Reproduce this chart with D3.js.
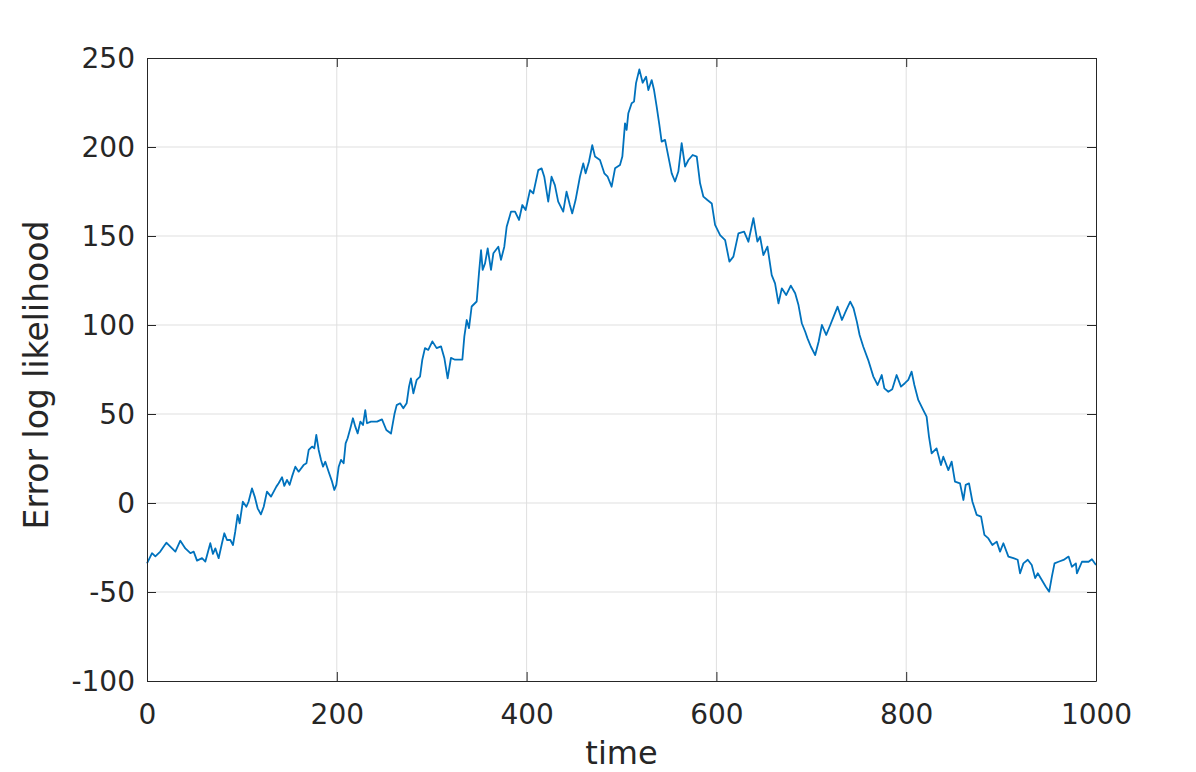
<!DOCTYPE html>
<html>
<head>
<meta charset="utf-8">
<script src="https://cdn.jsdelivr.net/npm/d3@7"></script>
<style>
  body { margin: 0; background: #fff; }
  svg { display: block; font-family: "DejaVu Sans", sans-serif; }
  .tick text { fill: #262626; }
</style>
</head>
<body>
<svg class="chart" width="1196" height="772"></svg>
<script>
// values
const times = [
  0, 5.3, 8.8, 14, 17.6, 20.4, 24.6, 29.9, 35.1, 40.4, 45.7, 49.2, 52.7, 58, 61.5, 66.7, 69.5, 72,
  75.5, 79, 81.5, 84.3, 87.8, 90.6, 93, 95.5, 97.6, 101, 104.7, 107, 110.6, 113.5, 116.6, 120, 123,
  126.4, 130.7, 136.3, 138.7, 142.3, 144.7, 147.5, 150.3, 152.8, 156.3, 159.8, 165, 168, 170.4,
  173.9, 176.3, 178.4, 180.9, 183.4, 185.5, 187.9, 191.4, 195, 197.4, 199.5, 202, 204.4, 207.2,
  209.3, 211.4, 214.3, 217, 219.5, 222, 224.8, 227.6, 230, 231.8, 236, 242.4, 247.6, 252.2,
  257.1, 260.9, 263.1, 266.7, 270.1, 273.6, 276.1, 278.1, 280.7, 284.2, 287.7, 290.1, 292.9, 296.4,
  300.7, 305.2, 309.8, 313.3, 316.8, 320.3, 324.5, 332.3, 334.4, 336.9, 339.3, 342.1, 347.4, 349.8,
  352, 353.7, 356.2, 359, 362.5, 365, 370.2, 373, 376.5, 379, 383.6, 387.8, 392, 395.5, 399, 403.6,
  407, 412.3, 415.8, 418.6, 422.8, 426.3, 429.8, 433.3, 438.6, 442.1, 445.6, 448.1, 451.6, 456.2,
  459.7, 462.2, 465.7, 469.2, 472.1, 477.3, 481.9, 485.4, 489.6, 493.2, 498.4, 500.9,
  503.7, 505.4, 507.2, 510.7, 513.2, 515.3, 518.8, 522.3, 525.9, 528.3, 531.8, 534.3, 537.1, 539.9,
  542.3, 545.9, 549.4, 552.9, 556.4, 559.9, 563.4, 567, 570.5, 575, 579.3, 582.8, 586.3, 590.5,
  595.1, 598.6, 603.9, 609.2, 613.7, 617.9, 623.2, 629.2, 633.7, 639, 643.2, 646, 649.5, 653.8,
  658.3, 661.8, 665.4, 668.9, 673.5, 678.4, 683, 686.5, 690, 693.6, 696, 699.6, 704.1, 707.7, 711.2,
  715.7, 720, 723.5, 727.7, 732.3, 736.8, 741, 744.5, 748, 750.9, 754.8,
  760, 765.4, 769.9, 774.2, 777, 781.2, 785.3, 789.9, 794.5, 798.6, 802.2, 805.7, 808.6, 812.7, 818,
  821.5, 824, 826.8, 832, 836.6, 839.1, 844.4, 847.9, 851.4, 856.7, 860.3, 862.7, 866.2, 869.8,
  874.3, 878.9, 882.4, 886.6, 890.8, 895.4, 898.9, 902.4, 907.7, 913, 917.5, 920, 923.5, 928.1,
  932.3, 935.9, 938.7, 942.9, 947.1, 950.7, 953.5, 956.3, 960.5, 965.8, 971.1, 974.6, 978.8, 979.9,
  985.2, 992.2, 995.7, 1000
];
const errorLogLik = [
  -33.9, -28.2, -30, -27.3, -24.5, -22.3, -24.5, -27.3, -21.2, -25.5, -28.2, -27.3, -32.4, -31, -32.9, -22.6, -28.6, -25.5,
  -31, -22.6, -17, -20.8, -20.8, -23.6, -16, -6.7, -11.4, 0.7, -2.1, 0.7, 8.2, 3.6, -3, -6.4, -2.1,
  6.4, 3.6, 9.2, 11.1, 14.5, 9.6, 13, 10.2, 14.8, 20.4, 17.6, 21.3, 22.3, 29.8,
  31.7, 30.7, 38.2, 29.8, 24.2, 20.4, 23.2, 17.6, 12, 7.3, 10.2, 20.4, 24.2, 22.3,
  33.5, 36.4, 42, 47.6, 42.9, 39.1, 45.7, 43.8, 52.2, 44.8, 45.7, 45.7, 47, 41,
  39, 50.3, 55, 56, 53.2, 56, 65.4, 70, 61.6, 69.2, 71, 80.5, 87, 86,
  90.8, 87, 88, 81.5, 70, 81.5, 80.5, 80.5, 93.6, 102.8, 98.2, 110.4, 113.2, 129,
  142, 131, 134.6, 143, 131, 140.3, 144, 136.6, 144, 155.2, 163.7, 163.7, 159, 167.4, 164.6, 175.8,
  173.9, 187, 188, 183.3, 169.3, 183.3, 178.6, 169.3, 163.7, 174.9, 167.4, 162.7, 170.2, 183.3,
  190.8, 185.2, 191.7, 201, 194.6, 192.7, 185.2, 183.3, 177.7, 188, 189.9, 194.6,
  213.3, 209.6, 219, 224.6, 225.5, 235.9, 243.6, 236.1, 239.5, 232, 237.6, 232, 222.6, 212.4,
  203, 204, 194.6, 185.2, 180.6, 186.2, 202.2, 189, 192.7, 195.5, 194.6, 179.6, 172.1, 170.2,
  168.3, 156.2, 150.5, 147.7, 135.6, 138.4, 151.5, 152.4, 146.8, 160, 146.8, 149.6, 139.3, 144,
  128, 123.4, 112.1, 120.6, 116.8, 122.1, 117.8, 111.2, 101, 96.2, 92.5, 87.8, 83.1, 90.6, 100,
  94.4, 100, 104.7, 110.3, 102.8, 108.4, 113.1, 109.4, 101.9, 94.4, 87.8,
  80.3, 71, 66.3, 71.9, 64.4, 62.5, 63.9, 71.9, 65.4, 67.3, 69.2, 73.8, 66.3, 57.9, 52.2,
  48.5, 37.3, 27.9, 30.7, 21.3, 26, 18.5, 23.2, 12, 11, 1.7, 10.2, 11, 0.7,
  -6.7, -7.7, -17.9, -19.9, -23.6, -21.7, -27.3, -22.6, -30.1, -31, -31.9, -39.5, -33.9, -31.9,
  -34.8, -42.2, -39.5, -43.3, -47, -49.8, -41.4, -33.9, -33, -32, -30.1, -35.8, -33.9, -39.5,
  -33, -33, -31.6, -34.8
];
const xTicks = [0, 200, 400, 600, 800, 1000];
const yTicks = [-100, -50, 0, 50, 100, 150, 200, 250];

// layout
const svg = d3.select("svg.chart");
const plotLeft = 147, plotRight = 1096, plotTop = 58, plotBottom = 681;
const axisColor = "#262626";

const x = d3.scaleLinear().domain([0, 1000]).range([plotLeft, plotRight]);
const y = d3.scaleLinear().domain([-100, 250]).range([plotBottom, plotTop]);

// grid
svg.append("g").selectAll("line")
  .data(xTicks.slice(1, -1))
  .join("line")
  .attr("x1", d => x(d)).attr("x2", d => x(d))
  .attr("y1", plotTop).attr("y2", plotBottom)
  .attr("stroke", "#dfdfdf").attr("stroke-width", 1);

svg.append("g").selectAll("line")
  .data(yTicks.slice(1, -1))
  .join("line")
  .attr("x1", plotLeft).attr("x2", plotRight)
  .attr("y1", d => y(d)).attr("y2", d => y(d))
  .attr("stroke", "#dfdfdf").attr("stroke-width", 1);

// line
const points = times.map((t, i) => [t, errorLogLik[i]]);
svg.append("path")
  .datum(points)
  .attr("fill", "none")
  .attr("stroke", "#0072BD")
  .attr("stroke-width", 1.8)
  .attr("stroke-linejoin", "round")
  .attr("d", d3.line().x(d => x(d[0])).y(d => y(d[1])));

// axes, ticks inside (MATLAB style)
const tickLen = 9;
const fmt = d => d3.format("d")(d).replace("−", "-");

const gx = svg.append("g")
  .attr("transform", `translate(0,${plotBottom})`)
  .call(d3.axisBottom(x).tickValues(xTicks).tickSizeInner(-tickLen).tickSizeOuter(0).tickPadding(23).tickFormat(fmt));
const gy = svg.append("g")
  .attr("transform", `translate(${plotLeft},0)`)
  .call(d3.axisLeft(y).tickValues(yTicks).tickSizeInner(-tickLen).tickSizeOuter(0).tickPadding(12).tickFormat(fmt));
const gxTop = svg.append("g")
  .attr("transform", `translate(0,${plotTop})`)
  .call(d3.axisTop(x).tickValues(xTicks).tickSizeInner(-tickLen).tickSizeOuter(0).tickFormat(""));
const gyRight = svg.append("g")
  .attr("transform", `translate(${plotRight},0)`)
  .call(d3.axisRight(y).tickValues(yTicks).tickSizeInner(-tickLen).tickSizeOuter(0).tickFormat(""));

[gx, gy, gxTop, gyRight].forEach(g => {
  g.select(".domain").attr("stroke", axisColor).attr("stroke-width", 1);
  g.selectAll(".tick line").attr("stroke", axisColor);
  g.selectAll(".tick text").attr("font-family", "DejaVu Sans").attr("font-size", 28);
});
gx.selectAll(".tick text").attr("dy", "0.71em");
gy.selectAll(".tick text").attr("dy", "0.35em");

// labels
svg.append("text")
  .attr("x", (plotLeft + plotRight) / 2).attr("y", 764)
  .attr("text-anchor", "middle")
  .attr("fill", axisColor)
  .attr("font-size", 32)
  .text("time");

svg.append("text")
  .attr("transform", "translate(48,375) rotate(-90)")
  .attr("text-anchor", "middle")
  .attr("fill", axisColor)
  .attr("font-size", 33)
  .text("Error log likelihood");
</script>
</body>
</html>
